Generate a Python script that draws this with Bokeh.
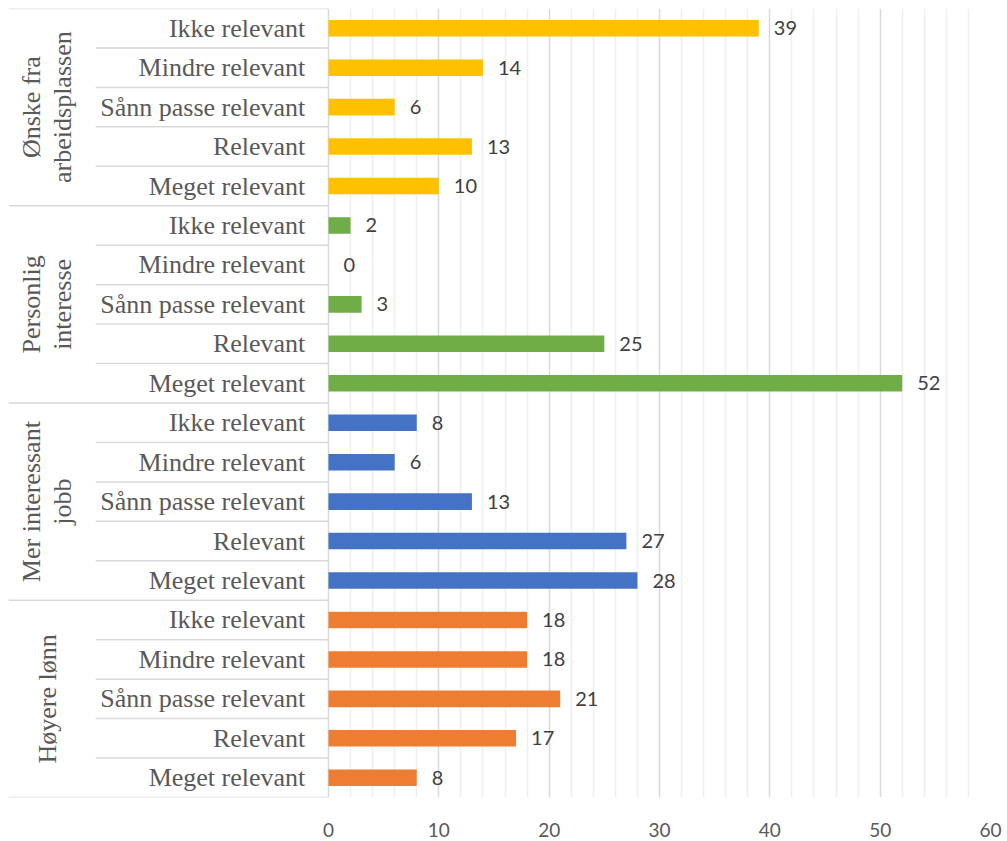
import math
from bokeh.plotting import figure
from bokeh.models import Range1d, FixedTicker, ColumnDataSource
from bokeh.core.properties import value
from bokeh.embed import file_html
from bokeh.resources import INLINE

# Data (bottom to top within each group)
levels = ["Meget relevant", "Relevant", "Sånn passe relevant", "Mindre relevant", "Ikke relevant"]
groups = ["Høyere lønn", "Mer interessant jobb", "Personlig interesse", "Ønske fra arbeidsplassen"]
group_labels = ["Høyere lønn", "Mer interessant\njobb", "Personlig\ninteresse", "Ønske fra\narbeidsplassen"]
hoyere_lonn = [8, 17, 21, 18, 18]
mer_interessant_jobb = [28, 27, 13, 6, 8]
personlig_interesse = [52, 25, 3, 0, 2]
onske_fra_arbeidsplassen = [10, 13, 6, 14, 39]
colors = ["#ED7D31", "#4472C4", "#70AD47", "#FFC000"]
x_ticks = [0, 10, 20, 30, 40, 50, 60]

series = [hoyere_lonn, mer_interessant_jobb, personlig_interesse, onske_fra_arbeidsplassen]
n = len(levels)

ys, vals, cols, labs = [], [], [], []
for gi, s in enumerate(series):
    for li, v in enumerate(s):
        ys.append(gi * n + li + 0.5)
        vals.append(v)
        cols.append(colors[gi])
        labs.append(levels[li])
src = ColumnDataSource(dict(y=ys, v=vals, c=cols, lab=labs, t=[str(v) for v in vals]))

total = n * len(groups)
x0 = -29.0
p = figure(width=1002, height=839, x_range=Range1d(x0, 60), y_range=Range1d(0, total),
           output_backend="svg", toolbar_location=None,
           min_border_left=8, min_border_right=12, min_border_top=8, min_border_bottom=42)
p.outline_line_color = None
p.yaxis.visible = False
p.ygrid.visible = False

p.xaxis.ticker = FixedTicker(ticks=x_ticks, minor_ticks=[t for t in range(2, 60, 2) if t % 10])
p.xaxis.axis_line_color = None
p.xaxis.major_tick_line_color = None
p.xaxis.minor_tick_line_color = None
p.xaxis.major_label_standoff = 19
p.xaxis.major_label_text_font = "Lato"
p.xaxis.major_label_text_font_size = "19px"
p.xaxis.major_label_text_color = "#595959"
p.xgrid.grid_line_color = "#d9d9d9"
p.xgrid.grid_line_width = 1.5
p.xgrid.minor_grid_line_color = "#efefef"
p.xgrid.minor_grid_line_width = 1.5

# bars
p.hbar(y="y", left=0, right="v", height=0.42, fill_color="c", line_color=None, source=src)
p.text(x="v", y="y", text="t", source=src, x_offset=15, text_align="left", text_baseline="middle",
       text_font=value("Lato"), text_font_size="20px", text_color="#404040")

# category labels
p.text(x=-2.1, y="y", text="lab", source=src, text_align="right", text_baseline="middle",
       text_font=value("Liberation Serif"), text_font_size="26px", text_color="#595959")

# group labels
p.text(x=[-25.5] * len(groups), y=[gi * n + n / 2 for gi in range(len(groups))], text=group_labels,
       angle=math.pi / 2, text_align="center", text_baseline="middle", text_line_height=1.05,
       text_font=value("Liberation Serif"), text_font_size="26px", text_color="#595959")

# table lines
inner = [i for i in range(1, total) if i % n]
outer = [i for i in range(0, total + 1) if i % n == 0]
p.segment(x0=[-21.1] * len(inner), x1=[0] * len(inner), y0=inner, y1=inner,
          line_color="#d9d9d9", line_width=1.5)
p.segment(x0=[x0] * len(outer), x1=[0] * len(outer), y0=outer, y1=outer,
          line_color="#d9d9d9", line_width=1.5)

open("out.html", "w").write(file_html(p, INLINE))
